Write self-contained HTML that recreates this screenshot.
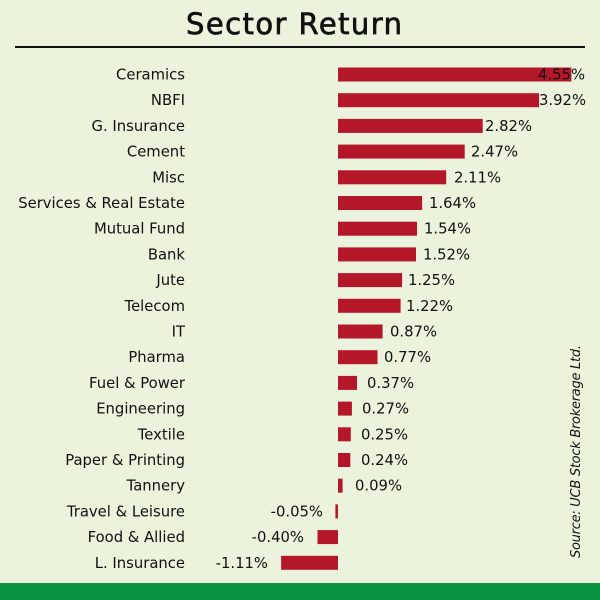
<!DOCTYPE html>
<html><head><meta charset="utf-8"><style>
html,body{margin:0;padding:0;background:#ebf3dc;}
svg{display:block;font-family:"DejaVu Sans","Liberation Sans",sans-serif;}
</style></head><body>
<svg width="600" height="600" viewBox="0 0 600 600" xmlns="http://www.w3.org/2000/svg">
<rect width="600" height="600" fill="#ebf3dc"/>
<text x="294" y="34" font-size="29" text-anchor="middle" fill="#111" stroke="#111" stroke-width="0.7" textLength="216">Sector Return</text>
<rect x="15" y="46" width="570" height="2" fill="#111"/>
<g font-size="14.8" fill="#111" text-anchor="end">
<text x="185" y="79.5">Ceramics</text>
<text x="185" y="105.2">NBFI</text>
<text x="185" y="130.9">G. Insurance</text>
<text x="185" y="156.6">Cement</text>
<text x="185" y="182.3">Misc</text>
<text x="185" y="208">Services &amp; Real Estate</text>
<text x="185" y="233.7">Mutual Fund</text>
<text x="185" y="259.4">Bank</text>
<text x="185" y="285.1">Jute</text>
<text x="185" y="310.8">Telecom</text>
<text x="185" y="336.5">IT</text>
<text x="185" y="362.2">Pharma</text>
<text x="185" y="387.9">Fuel &amp; Power</text>
<text x="185" y="413.6">Engineering</text>
<text x="185" y="439.3">Textile</text>
<text x="185" y="465">Paper &amp; Printing</text>
<text x="185" y="490.7">Tannery</text>
<text x="185" y="516.4">Travel &amp; Leisure</text>
<text x="185" y="542.1">Food &amp; Allied</text>
<text x="185" y="567.8">L. Insurance</text>
<text x="323" y="516.4">-0.05%</text>
<text x="304" y="542.1">-0.40%</text>
<text x="268" y="567.8">-1.11%</text>
</g>
<g fill="#b5172a">
<rect x="338" y="67.5" width="233.4" height="14"/>
<rect x="338" y="93.2" width="201.1" height="14"/>
<rect x="338" y="118.9" width="144.7" height="14"/>
<rect x="338" y="144.6" width="126.7" height="14"/>
<rect x="338" y="170.3" width="108.2" height="14"/>
<rect x="338" y="196" width="84.1" height="14"/>
<rect x="338" y="221.7" width="79" height="14"/>
<rect x="338" y="247.4" width="78" height="14"/>
<rect x="338" y="273.1" width="64.1" height="14"/>
<rect x="338" y="298.8" width="62.6" height="14"/>
<rect x="338" y="324.5" width="44.6" height="14"/>
<rect x="338" y="350.2" width="39.5" height="14"/>
<rect x="338" y="375.9" width="19" height="14"/>
<rect x="338" y="401.6" width="13.9" height="14"/>
<rect x="338" y="427.3" width="12.8" height="14"/>
<rect x="338" y="453" width="12.3" height="14"/>
<rect x="338" y="478.7" width="4.6" height="14"/>
<rect x="335.4" y="504.4" width="2.6" height="14"/>
<rect x="317.5" y="530.1" width="20.5" height="14"/>
<rect x="281.1" y="555.8" width="56.9" height="14"/>
</g>
<g font-size="14.8" fill="#111">
<text x="538" y="79.5">4.55%</text>
<text x="539" y="105.2">3.92%</text>
<text x="485" y="130.9">2.82%</text>
<text x="471" y="156.6">2.47%</text>
<text x="454" y="182.3">2.11%</text>
<text x="429" y="208">1.64%</text>
<text x="424" y="233.7">1.54%</text>
<text x="423" y="259.4">1.52%</text>
<text x="408" y="285.1">1.25%</text>
<text x="406" y="310.8">1.22%</text>
<text x="390" y="336.5">0.87%</text>
<text x="384" y="362.2">0.77%</text>
<text x="367" y="387.9">0.37%</text>
<text x="362" y="413.6">0.27%</text>
<text x="361" y="439.3">0.25%</text>
<text x="361" y="465">0.24%</text>
<text x="355" y="490.7">0.09%</text>
</g>
<text transform="translate(580,558) rotate(-90)" font-size="13" font-style="italic" fill="#111" textLength="213">Source: UCB Stock Brokerage Ltd.</text>
<rect x="0" y="583" width="600" height="17" fill="#0a9340"/>
</svg>
</body></html>
